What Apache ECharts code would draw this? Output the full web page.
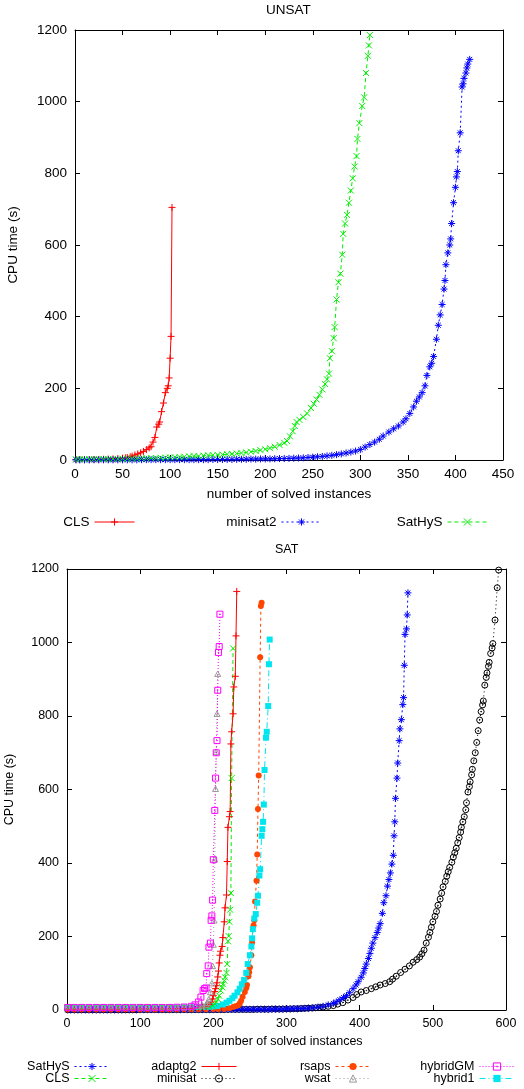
<!DOCTYPE html>
<html>
<head>
<meta charset="utf-8">
<script src="https://cdn.jsdelivr.net/npm/echarts@6/dist/echarts.min.js"></script>
<style>
  html, body { margin: 0; padding: 0; background: #fff; }
  #chart { width: 524px; height: 1089px; }
</style>
</head>
<body>
<div id="chart"></div>
<script>
// ---- UNSAT panel data: [number of solved instances, CPU time (s)]
const unsatCLS = [[1,1],[5,1],[10,1],[15,1],[20,1.5],[25,1.5],[30,2],[35,2.5],[40,3],[45,4],[50,5],[53,6],[55,7],[58,9],[60,11],[63,14],[66,17],[69,20],[72,24],[75,29],[78,34],[80,37],[82,50],[84,63],[86,92],[88,100],[89,106],[91,135],[93,159],[95,188],[97,200],[98,207],[99,229],[100,284],[101,345],[102,705]];
const unsatMinisat2 = [[1,0.5],[5,0.5],[10,0.5],[15,0.5],[20,0.5],[25,0.5],[30,0.5],[35,0.5],[40,0.5],[45,0.5],[50,0.5],[55,0.5],[60,0.5],[65,0.5],[70,1],[75,1],[80,1],[85,1],[90,1],[95,1],[100,1],[105,1],[110,1],[115,1],[120,1],[125,1],[130,1],[135,1],[140,1],[145,1.5],[150,1.5],[155,1.5],[160,1.5],[165,1.5],[170,2],[175,2],[180,2],[185,2.5],[190,2.5],[195,3],[200,3],[205,3],[210,3.5],[215,4],[220,4],[225,4.5],[230,5],[235,5.5],[240,6],[245,7],[250,8],[255,9],[260,10],[265,11.5],[270,13],[275,15],[280,17],[285,19.5],[290,22],[295,25],[300,29],[305,36],[310,43],[315,50],[320,58],[324,67],[330,78],[335,87],[340,95],[345,106],[348,115],[352,130],[356,148],[359,164],[362,176],[365,188],[368,207],[370,236],[373,260],[375,270],[377,289],[380,337],[382,376],[384,405],[386,434],[388,477],[389,501],[390,545],[392,578],[394,600],[395,617],[396,660],[398,718],[400,761],[401,790],[402,805],[403,863],[405,913],[407,1041],[408,1050],[409,1065],[411,1080],[412,1094],[413,1105],[415,1118]];
const unsatSatHyS = [[1,2],[5,2],[10,2],[15,2],[20,2.5],[25,2.5],[30,3],[35,3],[40,3],[45,3],[50,3.5],[55,3.5],[60,4],[65,4],[70,4.5],[75,4.5],[80,5],[85,5.5],[90,6],[95,6.5],[100,7],[105,7.5],[110,8],[115,9],[120,10],[125,10.5],[130,11],[135,12],[140,13],[145,13.5],[150,14],[155,15],[160,16],[165,17],[170,18],[175,19.5],[180,21],[185,23],[190,25],[195,27.5],[200,30],[205,33],[210,37],[215,42],[220,48],[223,53],[226,66],[229,80],[231,95],[233,106],[236,112],[240,120],[244,130],[248,145],[251,157],[254,169],[257,182],[260,197],[263,212],[265,225],[267,241],[268,284],[270,304],[272,340],[273,371],[275,448],[277,496],[279,520],[281,573],[282,631],[284,660],[286,684],[288,718],[290,752],[292,786],[294,819],[296,848],[297,896],[299,940],[302,988],[304,1012],[306,1080],[308,1128],[309,1157],[310,1186]];

// ---- SAT panel data
const satSatHyS = [[1,0.5],[5,0.5],[10,0.5],[15,0.5],[20,0.5],[25,0.5],[30,0.5],[35,0.5],[40,0.5],[45,0.5],[50,0.5],[55,0.5],[60,0.5],[65,0.5],[70,0.5],[75,0.5],[80,1],[85,1],[90,1],[95,1],[100,1],[105,1],[110,1],[115,1],[120,1],[125,1],[130,1],[135,1],[140,1],[145,1],[150,1],[155,1],[160,1],[165,1],[170,1],[175,1],[180,1],[185,1],[190,1],[195,1],[200,1.5],[205,1.5],[210,1.5],[215,1.5],[220,1.5],[225,1.5],[230,1.5],[235,1.5],[240,2],[245,2],[250,2],[255,2],[260,2],[265,2],[270,2],[275,2],[280,2.5],[285,2.5],[290,2.5],[295,2.5],[300,3],[305,3],[310,3.5],[315,3.5],[320,4],[325,4.5],[330,5],[336,6],[343,8],[350,10],[357,14],[364,18],[368,22],[373,28],[378,34],[382,39],[386,47],[391,58],[395,68],[398,77],[402,89],[405,101],[407,113],[409,125],[412,140],[414,154],[416,168],[418,182],[421,197],[424,211],[426,223],[428,235],[431,263],[433,292],[436,311],[438,337],[440,355],[442,373],[444,397],[446,421],[447,474],[448,512],[449,576],[451,631],[452,672],[454,733],[455,765],[457,790],[459,831],[460,850],[461,938],[462,1022],[464,1037],[465,1075],[466,1135]];
const satCLS = [[1,7],[10,7],[20,7],[30,7],[40,7],[50,7],[60,7],[70,7],[80,7],[90,7],[100,7],[110,7],[120,7],[130,7],[140,7],[150,7],[160,7.5],[170,7.5],[180,8],[190,9],[195,10],[199,12],[202,17],[204,22],[206,30],[208,39],[210,53],[212,62],[213,70],[215,80],[216,89],[218,101],[219,125],[220,187],[221,201],[222,240],[223,273],[224,318],[225,631],[227,984]];
const satAdaptg2 = [[1,2],[10,2],[20,2],[30,2],[40,2],[50,2],[60,2],[70,2],[80,2.5],[90,2.5],[100,3],[110,3],[120,3],[130,3],[140,3.5],[150,3.5],[160,4],[170,4.5],[180,6],[185,8],[190,10],[194,15],[197,22],[199,30],[200,39],[202,50],[203,58],[204,66],[205,74],[206,90],[207,106],[208,128],[209,149],[210,160],[212,173],[213,197],[215,240],[216,278],[218,313],[219,404],[220,497],[222,526],[223,540],[224,724],[225,757],[227,806],[228,879],[230,908],[231,1018],[232,1139]];
const satMinisat = [[1,0.5],[5,0.5],[10,0.5],[15,0.5],[20,0.5],[25,0.5],[30,0.5],[35,0.5],[40,0.5],[45,0.5],[50,0.5],[55,0.5],[60,0.5],[65,0.5],[70,0.5],[75,0.5],[80,0.5],[85,0.5],[90,0.5],[95,0.5],[100,1],[105,1],[110,1],[115,1],[120,1],[125,1],[130,1],[135,1],[140,1],[145,1],[150,1],[155,1],[160,1],[165,1],[170,1],[175,1],[180,1],[185,1],[190,1],[195,1],[200,1],[205,1],[210,1],[215,1],[220,1.5],[225,1.5],[230,1.5],[235,1.5],[240,1.5],[245,1.5],[250,1.5],[255,1.5],[260,2],[265,2],[270,2],[275,2],[280,2.5],[285,2.5],[290,2.5],[295,2.5],[300,3],[305,3],[310,3.5],[315,3.5],[320,4],[325,4.5],[330,5],[335,5.5],[340,6],[345,7],[350,8],[357,10],[364,12],[370,16],[377,20],[384,27],[391,34],[396,42],[402,49],[409,53],[416,58],[422,63],[428,68],[435,72],[441,77],[445,84],[450,92],[456,102],[462,111],[468,120],[473,130],[478,137],[482,144],[485,153],[488,163],[491,182],[494,198],[496,211],[498,225],[500,240],[503,255],[505,268],[507,285],[510,302],[512,318],[514,335],[517,350],[519,364],[521,376],[523,388],[526,402],[528,416],[530,428],[532,440],[534,455],[536,469],[538,484],[539,497],[541,512],[543,526],[545,545],[546,564],[548,593],[550,608],[551,621],[553,640],[554,655],[556,678],[558,700],[560,728],[562,760],[564,789],[566,812],[568,830],[569,841],[571,884],[573,905],[574,917],[576,935],[577,946],[579,970],[581,985],[582,997],[585,1061],[588,1149],[590,1197]];
const satRsaps = [[1,2],[10,2],[20,2],[30,2],[40,2],[50,2],[60,2],[70,2],[80,2],[90,2],[100,2],[110,2],[120,2],[130,2],[140,2],[150,2],[160,2],[170,2],[180,2],[190,2],[200,2.5],[207,2.5],[215,3],[222,5],[227,8],[230,10],[234,13],[236,18],[238,25],[240,36],[243,49],[245,60],[246,68],[248,92],[249,103],[250,116],[252,149],[253,184],[255,230],[256,244],[257,295],[259,352],[260,423],[261,547],[262,638],[264,960],[265,1099],[266,1108]];
const satWsat = [[1,7],[10,7],[20,7],[30,7],[40,7],[50,7],[60,7],[70,7],[80,7],[90,7],[100,7],[110,7],[120,7],[130,7],[140,7],[150,7.5],[160,8],[170,9],[180,11],[185,13],[190,15],[192,20],[194,30],[196,49],[198,73],[199,120],[200,178],[201,244],[202,410],[203,602],[204,703],[205,806],[206,915]];
const satHybridGM = [[1,7],[10,7],[20,7],[30,7],[40,7],[50,7],[60,7],[70,7],[80,7],[90,7],[100,7],[110,7],[120,7],[130,7],[140,7],[150,7.5],[160,8],[170,10],[175,14],[180,22],[183,35],[186,53],[188,58],[190,60],[191,99],[193,120],[194,171],[196,182],[197,244],[198,256],[199,299],[200,409],[202,543],[203,631],[204,700],[205,733],[206,870],[207,973],[208,989],[209,1077]];
const satHybrid1 = [[1,7],[10,7],[20,7],[30,7],[40,7],[50,7],[60,7],[70,7],[80,7],[90,7],[100,7],[110,7],[120,7],[130,7],[140,7],[150,7],[160,7.5],[170,7.5],[180,8],[188,8.5],[195,9],[200,10],[205,11],[213,15],[218,20],[222,25],[226,32],[229,39],[233,48],[236,58],[239,70],[242,82],[245,101],[247,125],[250,149],[252,173],[253,195],[254,220],[256,249],[258,261],[260,292],[261,311],[263,366],[264,383],[266,474],[267,492],[268,512],[269,559],[270,653],[272,741],[273,757],[275,827],[276,941],[277,1008]];

const FONT = "Liberation Sans";

// gnuplot-like point types
const SYM = {
  plus: "path://M0,5H10M5,0V10",
  cross: "path://M0,0L10,10M10,0L0,10",
  star: "path://M0,5H10M5,0V10M1.5,1.5L8.5,8.5M8.5,1.5L1.5,8.5",
  circleDot: "path://M10,5A5,5,0,1,1,0,5A5,5,0,1,1,10,5ZM5.6,5A0.6,0.6,0,1,1,4.4,5A0.6,0.6,0,1,1,5.6,5Z",
  squareDot: "path://M0,0H10V10H0ZM4.5,4.5H5.5V5.5H4.5Z",
  triDot: "path://M5,0L10,9H0ZM4.5,5.5H5.5V6.5H4.5Z"
};

function line(name, data, panel, color, symbol, size, dash, filled) {
  return {
    name: name,
    type: "line",
    xAxisIndex: panel * 2,
    yAxisIndex: panel * 2,
    data: data,
    symbol: filled ? symbol : SYM[symbol],
    symbolSize: size,
    symbolKeepAspect: true,
    animation: false,
    lineStyle: { color: color, width: 1, type: dash },
    itemStyle: filled
      ? { color: color, borderWidth: 0 }
      : { color: "rgba(0,0,0,0)", borderColor: color, borderWidth: 1 },
    emphasis: { disabled: true },
    z: 2
  };
}

const series = [
  line("CLS", unsatCLS, 0, "#ff0000", "plus", 7, "solid"),
  line("minisat2", unsatMinisat2, 0, "#0000ff", "star", 7, [2, 3]),
  line("SatHyS", unsatSatHyS, 0, "#00ee00", "cross", 6, [4, 3]),

  line("SAT:minisat", satMinisat, 1, "#000000", "circleDot", 6, [1, 3]),
  line("SAT:SatHyS", satSatHyS, 1, "#0000ff", "star", 7, [2, 3]),
  line("SAT:rsaps", satRsaps, 1, "#ff4500", "circle", 6, [3, 3], true),
  line("SAT:hybrid1", satHybrid1, 1, "#00e5ee", "rect", 6, [6, 3, 1, 3], true),
  line("SAT:CLS", satCLS, 1, "#00ee00", "cross", 6, [4, 3]),
  line("SAT:adaptg2", satAdaptg2, 1, "#ff0000", "plus", 7, "solid"),
  line("SAT:wsat", satWsat, 1, "#999999", "triDot", 6, [1, 3]),
  line("SAT:hybridGM", satHybridGM, 1, "#ff00ff", "squareDot", 6, [1, 2])
];

function xAxes(grid, max, interval, fs, top) {
  return {
    type: "value", gridIndex: grid, min: 0, max: max, interval: interval,
    position: top ? "top" : "bottom",
    name: top ? "" : "number of solved instances",
    nameLocation: "middle", nameGap: fs > 13 ? 27 : 25,
    nameTextStyle: { fontFamily: FONT, fontSize: fs, color: "#000" },
    axisLine: { show: true, onZero: false, lineStyle: { color: "#000", width: 1 } },
    axisTick: { show: true, inside: true, length: 5, lineStyle: { color: "#000" } },
    axisLabel: { show: !top, margin: 7, fontFamily: FONT, fontSize: fs, color: "#000",
      formatter: v => String(v) },
    splitLine: { show: false }
  };
}

function yAxes(grid, fs, gap, right) {
  return {
    type: "value", gridIndex: grid, min: 0, max: 1200, interval: 200,
    position: right ? "right" : "left",
    name: right ? "" : "CPU time (s)",
    nameLocation: "middle", nameGap: gap, nameRotate: 90,
    nameTextStyle: { fontFamily: FONT, fontSize: fs, color: "#000" },
    axisLine: { show: true, onZero: false, lineStyle: { color: "#000", width: 1 } },
    axisTick: { show: true, inside: true, length: 5, lineStyle: { color: "#000" } },
    axisLabel: { show: !right, margin: 8, fontFamily: FONT, fontSize: fs, color: "#000",
      formatter: v => String(v) },
    splitLine: { show: false }
  };
}

function legendAt(name, right, top, width, fs) {
  return {
    data: [name], right: right, top: top, padding: 0,
    orient: "horizontal", align: "right",
    itemWidth: width, itemHeight: 9, selectedMode: false,
    itemStyle: { borderWidth: 1 },
    lineStyle: { width: 1 },
    formatter: n => n.split(":").pop(),
    textStyle: { fontFamily: FONT, fontSize: fs, color: "#000" }
  };
}

const chart = echarts.init(document.getElementById("chart"), null, { renderer: "canvas" });
chart.setOption({
  animation: false,
  backgroundColor: "#fff",
  title: [
    { text: "UNSAT", left: 266, top: 3, padding: 0,
      textStyle: { fontFamily: FONT, fontSize: 13.5, fontWeight: "normal", color: "#000" } },
    { text: "SAT", left: 275, top: 543, padding: 0,
      textStyle: { fontFamily: FONT, fontSize: 12.5, fontWeight: "normal", color: "#000" } }
  ],
  grid: [
    { left: 75, top: 30, width: 428, height: 430, outerBoundsMode: "none", containLabel: false },
    { left: 67, top: 569, width: 439, height: 441, outerBoundsMode: "none", containLabel: false }
  ],
  xAxis: [
    xAxes(0, 450, 50, 13.5, false), xAxes(0, 450, 50, 13.5, true),
    xAxes(1, 600, 100, 12.5, false), xAxes(1, 600, 100, 12.5, true)
  ],
  yAxis: [
    yAxes(0, 13.5, 55, false), yAxes(0, 13.5, 55, true),
    yAxes(1, 12.5, 51, false), yAxes(1, 12.5, 51, true)
  ],
  legend: [
    legendAt("CLS", 389, 515, 40, 13.5),
    legendAt("minisat2", 202, 515, 40, 13.5),
    legendAt("SatHyS", 36, 515, 40, 13.5),
    legendAt("SAT:SatHyS", 414, 1060, 35, 12.5),
    legendAt("SAT:CLS", 414, 1072, 35, 12.5),
    legendAt("SAT:adaptg2", 287, 1060, 35, 12.5),
    legendAt("SAT:minisat", 287, 1072, 35, 12.5),
    legendAt("SAT:rsaps", 153, 1060, 35, 12.5),
    legendAt("SAT:wsat", 153, 1072, 35, 12.5),
    legendAt("SAT:hybridGM", 9, 1060, 35, 12.5),
    legendAt("SAT:hybrid1", 9, 1072, 35, 12.5)
  ],
  series: series
});
</script>
</body>
</html>
